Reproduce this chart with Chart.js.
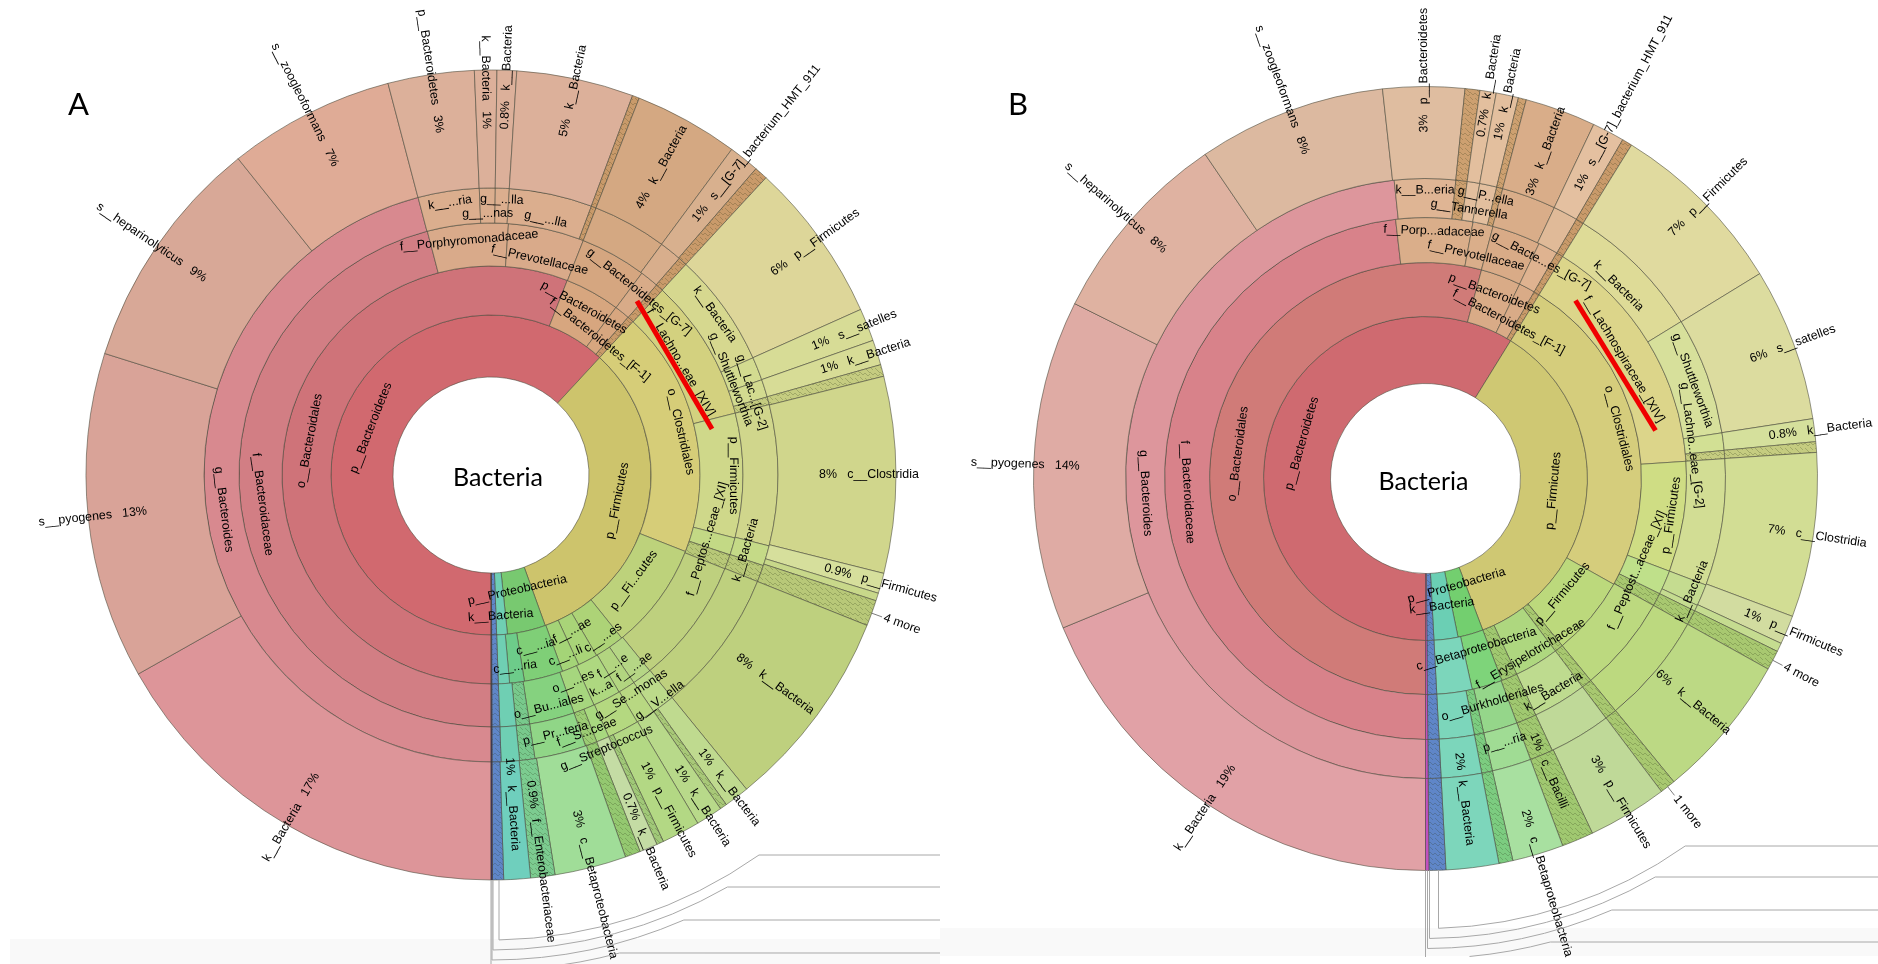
<!DOCTYPE html>
<html>
<head>
<meta charset="utf-8">
<title>Krona A / B</title>
<script src="https://cdn.jsdelivr.net/npm/chart.js@4"></script>
<style>
  html, body { margin: 0; padding: 0; background: #fff; width: 1878px; height: 964px; overflow: hidden; }
  canvas { position: absolute; top: 0; }
  .band { position: absolute; background: #f9f9f9; }
</style>
</head>
<body>
<div class="band" style="left:10px;top:939px;width:930px;height:25px"></div>
<div class="band" style="left:940px;top:928px;width:938px;height:28px"></div>
<canvas id="chartA" width="940" height="964" style="left:0"></canvas>
<canvas id="chartB" width="938" height="964" style="left:940px"></canvas>
<script>
// share of the circle (%) per slice, clockwise from 6 o'clock. 'H' in a colour = hatched node
const ring1A = [61.89, 32.61, 3.86, 1.08, 0.50, 0.06];
const ring1ALabels = ['p__Bacteroidetes', 'p__Firmicutes', 'p__Proteobacteria', 'k__Bacteria', '', ''];
const ring1ANudge = [0, 0, -11, 12];
const ring1AColors = ['#d1696f', '#cdc46c', '#78c970', '#6fcfb3', 'H#5f86c8', '#3a2f6a'];

const ring2A = [55.94, 4.25, 1.19, 0.50, 19.08, 8.28, 2.33, 1.53, 1.33, 3.00, 1.14, 0.86, 0.50, 0.06];
const ring2ALabels = ['o__Bacteroidales', 'p__Bacteroidetes', 'f__Bacteroidetes_[F-1]', '', 'o__Clostridiales', 'p__Fi...cutes', 'c__...es', 'f__...ae', 'c__...li', 'c__...ia', 'c__...ria', '', '', ''];
const ring2ANudge = [0, 7, -11, 0, 10, -7, 13, -9, 11, -7, 9];
const ring2AColors = ['#cf7379', '#d7a67f', '#d7a67f', 'H#c99a6a', '#d6cd78', '#bdd27b', '#add377', '#a9d478', '#a4d477', '#7fcf77', '#6dcc8a', '#6fcfb3', 'H#5f86c8', '#3a2f6a'];

const ring3A = [45.92, 5.17, 4.86, 4.25, 1.19, 0.50, 9.14, 7.97, 1.11, 0.94, 8.08, 1.25, 1.11, 1.78, 1.36, 2.89, 0.86, 1.03, 0.50, 0.06];
const ring3ALabels = ['f__Bacteroidaceae', 'f__Porphyromonadaceae', 'f__Prevotellaceae', '', 'g__Bacteroidetes_[G-7]', '', 'f__Lachno...eae_[XIV]', 'p__Firmicutes', 'f__Peptos...ceae_[XI]', '', '', 'f__...ae', 'f__...e', 'k...a', 'o__...es', 'o__Bu...iales', '', '', '', ''];
const ring3ANudge = [0, 5, -10, 0, 5, 0, -10, 12, -5, 0, 0, 9, -4, 10, -8, 8];
const ring3AColors = ['#d27e84', '#d9aa8a', '#d9aa8a', '#d5a680', '#d8ab88', 'H#c99a6a', '#d3d17f', '#cfd88a', '#c3d985', 'H#b8c878', '#bed07e', '#b5d685', '#b2d580', '#aed880', '#a6d67e', '#85d27f', 'H#78c98c', '#6fcfb3', 'H#5f86c8', '#3a2f6a'];

const ring4A = [45.92, 3.44, 0.89, 0.78, 4.67, 0.28, 4.17, 1.25, 0.50, 6.42, 1.31, 1.00, 0.44, 7.92, 1.14, 0.94, 8.08, 1.28, 1.08, 1.78, 0.72, 0.67, 2.89, 0.86, 1.03, 0.50, 0.06];
const ring4ALabels = ['g__Bacteroides', 'k__...ria', 'g__...nas', 'g__...lla', 'g__...lla', '', '', '', '', 'k__Bacteria', 'g__Shuttleworthia', 'g__Lac...[G-2]', '', '', 'k__Bacteria', '', '', 'g__V...ella', 'g__Se...monas', '', 'g__Streptococcus', 'f__S...ceae', 'p__Pr...teria', '', '', '', ''];
const ring4ANudge = [0, 6, -8, 6, -8, 0, 0, 0, 0, 6, -11, 4, 0, 0, -4, 0, 0, 12, -9, 0, 27, 5, -3];
const ring4AColors = ['#d8898f', '#dbae8e', '#dbae8e', '#dbae8e', '#dbae8e', 'H#c99a6a', '#d4a882', '#d8ae8c', 'H#c99a6a', '#d6d88f', '#d3db90', '#d3db90', 'H#c5cc80', '#d0d68c', '#c5da87', 'H#b8c878', '#bed07e', '#bcda8a', '#b8d882', '#b4d880', '#a8d87f', 'H#9ccc74', '#90d687', 'H#78c98c', '#6fcfb3', 'H#5f86c8', '#3a2f6a'];

const ring5A = [16.83, 13.03, 9.42, 6.64, 3.44, 0.89, 0.78, 4.67, 0.28, 4.17, 1.22, 0.53, 6.42, 1.31, 1.00, 0.47, 7.83, 0.81, 0.31, 1.03, 8.08, 1.00, 0.28, 1.06, 1.53, 0.28, 0.72, 0.61, 2.86, 0.97, 1.06, 0.44, 0.06];
const ring5ALabels = ['k__Bacteria', 's__pyogenes', 's__heparinolyticus', 's__zoogleoformans', 'p__Bacteroidetes', 'k__Bacteria', 'k__Bacteria', 'k__Bacteria', '', 'k__Bacteria', 's__[G-7]_bacterium_HMT_911', '', 'p__Firmicutes', 's__satelles', 'k__Bacteria', '', 'c__Clostridia', 'p__Firmicutes', '', '4 more', 'k__Bacteria', 'k__Bacteria', '', 'k__Bacteria', 'p__Firmicutes', '', 'k__Bacteria', '', 'c__Betaproteobacteria', 'f__Enterobacteriaceae', 'k__Bacteria', '', ''];
const ring5APct = ['17%', '13%', '9%', '7%', '3%', '1%', '0.8%', '5%', '', '4%', '1%', '', '6%', '1%', '1%', '', '8%', '0.9%', '', '', '8%', '1%', '', '1%', '1%', '', '0.7%', '', '3%', '0.9%', '1%', '', ''];
const ring5ANudge = [0, 0, 0, 0, 0, 0, 0, 0, 0, -41, -20, 0, 0, 0, 0, 0, -18, 0, 0, 0, -40, 0, 0, 0, -20, 0, 0, 0, 0, -38, -63];
const ring5AColors = ['#dd9599', '#d9a398', '#d8a897', '#dfab96', '#dcb09a', '#dcb09a', '#dcb09a', '#dcb09a', 'H#c99a6a', '#d4a882', '#d8b08e', 'H#c99a6a', '#ddd699', '#d7dc96', '#d7dc96', 'H#c5cc80', '#d0d68c', '#d6df9c', '#c8d88a', 'H#b8c878', '#bed07e', '#bfda8f', 'H#a8c878', '#b8d98a', '#b3d884', 'H#a0c878', '#c4dca4', 'H#94c870', '#a0dd98', 'H#7ccc90', '#6fcfbd', 'H#5f86c8', '#3a2f6a'];

const ring1B = [58.81, 35.44, 2.53, 2.39, 0.69, 0.14];
const ring1BLabels = ['p__Bacteroidetes', 'p__Firmicutes', 'p__Proteobacteria', 'k__Bacteria', '', ''];
const ring1BNudge = [0, 0, -17, 0];
const ring1BColors = ['#cf6a70', '#cfc873', '#73cf6f', '#6bcfb4', 'H#5f86c8', '#c050c0'];

const ring2B = [54.17, 3.00, 1.22, 0.42, 24.33, 5.94, 0.64, 3.33, 1.19, 2.28, 2.64, 0.69, 0.14];
const ring2BLabels = ['o__Bacteroidales', 'p__Bacteroidetes', 'f__Bacteroidetes_[F-1]', '', 'o__Clostridiales', 'p__Firmicutes', '', '', '', 'c__Betaproteobacteria', '', '', ''];
const ring2BNudge = [0, 8, -12, 0, 11, -10, 0, 0, 0, -11];
const ring2BColors = ['#d07b78', '#d9ab87', '#d9ab87', 'H#c99a6a', '#d5cd7c', '#bcd97c', 'H#a8c870', '#aed77f', 'H#a0c870', '#7ed47a', '#7cd6bb', 'H#5f86c8', '#c050c0'];

const ring3B = [48.17, 4.75, 1.25, 3.00, 1.22, 0.42, 15.14, 6.83, 1.50, 0.81, 6.00, 0.64, 3.33, 1.25, 2.11, 0.58, 2.17, 0.69, 0.14];
const ring3BLabels = ['f__Bacteroidaceae', 'f__Porp...adaceae', 'f__Prevotellaceae', '', 'g__Bacte...es_[G-7]', '', 'f__Lachnospiraceae_[XIV]', 'p__Firmicutes', 'f__Peptost...aceae_[XI]', '', '', '', 'f__Erysipelotrichaceae', '', 'o__Burkholderiales', '', '', '', ''];
const ring3BNudge = [0, 9, -10, 0, 8, 0, -7, 10, -8, 0, 0, 0, -34, 0, -5];
const ring3BColors = ['#d8828a', '#daae8a', '#daae8a', '#d9ab87', '#dfb390', 'H#c99a6a', '#dcd58a', '#cfdd84', '#bfe08a', 'H#a8c870', '#bcd97f', 'H#a8c870', '#bedb8f', 'H#a0c870', '#95d68a', 'H#7ccc80', '#7cd6bb', 'H#5f86c8', '#c050c0'];

const ring4B = [48.33, 3.28, 0.61, 0.67, 0.92, 0.33, 2.92, 1.33, 0.42, 7.42, 6.33, 0.94, 0.44, 6.83, 1.17, 0.33, 0.81, 6.00, 0.64, 3.33, 1.25, 2.11, 0.58, 2.17, 0.69, 0.14];
const ring4BLabels = ['g__Bacteroides', 'k__B...eria', '', 'g__Tannerella', 'g__P...ella', '', '', '', '', 'k__Bacteria', 'g__Shuttleworthia', 'g__Lachno...eae_[G-2]', '', '', 'k__Bacteria', '', '', '', '', 'k__Bacteria', '', 'p__...ria', '', '', '', ''];
const ring4BNudge = [0, 8, 0, -8, 8, 0, 0, 0, 0, -8, 4, -12, 0, 0, 9, 0, 0, 0, 0, -32, 0, -5];
const ring4BColors = ['#dd969c', '#dfb594', 'H#cda070', '#e3bf9e', '#e3bf9e', 'H#cda070', '#d9ad89', '#e0ba98', 'H#c99a6a', '#dedb97', '#d7e09b', '#d2e094', 'H#c5cc80', '#d2dd94', '#c5dc90', '#c5dc90', 'H#a8c870', '#bcd97f', 'H#a8c870', '#bfd998', 'H#a0c870', '#a0dc94', 'H#7ccc80', '#7cd6bb', 'H#5f86c8', '#c050c0'];

const ring5B = [18.78, 13.58, 8.14, 7.75, 3.36, 0.61, 0.67, 0.92, 0.33, 2.92, 1.33, 0.42, 7.44, 6.31, 0.94, 0.44, 6.78, 1.19, 0.36, 0.81, 6.00, 0.64, 3.28, 1.31, 2.11, 0.58, 2.17, 0.69, 0.14];
const ring5BLabels = ['k__Bacteria', 's__pyogenes', 's__heparinolyticus', 's__zoogleoformans', 'p__Bacteroidetes', '', 'k__Bacteria', 'k__Bacteria', '', 'k__Bacteria', 's__[G-7]_bacterium_HMT_911', '', 'p__Firmicutes', 's__satelles', 'k__Bacteria', '', 'c__Clostridia', 'p__Firmicutes', '', '4 more', 'k__Bacteria', '1 more', 'p__Firmicutes', 'c__Bacilli', 'c__Betaproteobacteria', '', 'k__Bacteria', '', ''];
const ring5BPct = ['19%', '14%', '8%', '8%', '3%', '', '0.7%', '1%', '', '3%', '1%', '', '7%', '6%', '0.8%', '', '7%', '1%', '', '', '6%', '', '3%', '1%', '2%', '', '2%', '', ''];
const ring5BNudge = [0, 0, 0, 0, 0, 0, 0, 0, 0, -44, -20, 0, 0, 0, 0, 0, 0, 0, 0, 0, -44, 0, -21, -69, 0, 0, -70];
const ring5BColors = ['#e1a1a6', '#dfaba4', '#dfb2a1', '#dcb9a0', '#dfbda0', 'H#cda070', '#e3bf9e', '#e3bf9e', 'H#cda070', '#d9ad89', '#e4c0a0', 'H#c99a6a', '#e0da9f', '#dcdc9f', '#d5e09c', 'H#c5cc80', '#d2dd94', '#d2dca0', '#c5dc90', 'H#a8c870', '#bcd984', 'H#a8c870', '#bfd998', 'H#a0c870', '#a8e0a0', 'H#7ccc80', '#7dd6bb', 'H#5f86c8', '#c050c0'];

const ringWeightsA = [118, 35, 43, 49, 62];
const ringWeightsB = [92, 39, 45, 54, 67];

function hatch(base) {
  const c = document.createElement('canvas');
  c.width = 10; c.height = 10;
  const g = c.getContext('2d');
  g.fillStyle = base;
  g.fillRect(0, 0, 10, 10);
  g.strokeStyle = 'rgba(40,50,20,0.28)';
  g.lineWidth = 0.8;
  g.beginPath();
  g.moveTo(0, 2); g.lineTo(3, 5); g.moveTo(3, 5); g.lineTo(5, 3); g.lineTo(8, 6); g.lineTo(10, 4);
  g.moveTo(0, 7); g.lineTo(3, 10); g.moveTo(5, 8); g.lineTo(7, 10); g.moveTo(7, 0); g.lineTo(10, 3);
  g.stroke();
  return g.createPattern(c, 'repeat');
}

function fills(colors) {
  return colors.map(function (c) { return c[0] === 'H' ? hatch(c.slice(1)) : c; });
}

const kronaLabels = {
  id: 'kronaLabels',
  afterDatasetsDraw(chart, args, opts) {
    const ctx = chart.ctx;
    const R = chart.getDatasetMeta(0).data[0].outerRadius;
    const cx = chart.getDatasetMeta(0).data[0].x;
    const cy = chart.getDatasetMeta(0).data[0].y;
    ctx.save();
    ctx.fillStyle = '#000';
    ctx.font = '12.4px "Liberation Sans"';
    ctx.textBaseline = 'middle';

    chart.data.datasets.forEach(function (ds, i) {
      chart.getDatasetMeta(i).data.forEach(function (arc, j) {
        const name = ds.names[j];
        if (!name) return;
        const a = (arc.startAngle + arc.endAngle) / 2;
        const phi = ((a - Math.PI / 2) * 180 / Math.PI + 720) % 360;
        const mid = (arc.innerRadius + arc.outerRadius) / 2;
        ctx.save();
        if (i === 0) {
          // outer ring, radial text
          const more = !ds.pct[j];
          const right = phi >= 179.5;
          const r = more ? R + 13 : mid + (ds.nudge[j] || 0);
          ctx.translate(cx + r * Math.cos(a), cy + r * Math.sin(a));
          ctx.rotate(right ? a : a + Math.PI);
          ctx.textAlign = right ? 'left' : 'right';
          const text = more ? name : (right ? ds.pct[j] + '   ' + name : name + '   ' + ds.pct[j]);
          ctx.fillText(text, 0, 0);
          if (more) {
            ctx.strokeStyle = '#555';
            ctx.lineWidth = 0.7;
            ctx.beginPath();
            ctx.moveTo(-13, 0);
            ctx.lineTo(-2, 0);
            ctx.stroke();
          }
        } else {
          // inner rings, tangential text
          let rot = phi + 180;
          if (rot > 180) rot -= 360;
          if (rot > 92) rot -= 180;
          if (rot < -88) rot += 180;
          const r = mid + (ds.nudge[j] || 0);
          ctx.translate(cx + r * Math.cos(a), cy + r * Math.sin(a));
          ctx.rotate(rot * Math.PI / 180);
          ctx.textAlign = 'center';
          ctx.fillText(name, 0, 0);
        }
        ctx.restore();
      });
    });

    // root label and panel letter
    ctx.font = '25px Lato';
    ctx.textAlign = 'center';
    ctx.fillText('Bacteria', cx + opts.rootDx, cy + 3);
    ctx.font = '31px Lato';
    ctx.textAlign = 'left';
    ctx.fillText(opts.letter, opts.letterX, 105);

    // red marker over the Lachnospiraceae slice
    ctx.strokeStyle = '#f00000';
    ctx.lineWidth = 5;
    ctx.beginPath();
    ctx.moveTo(cx + opts.mark[0], cy + opts.mark[1]);
    ctx.lineTo(cx + opts.mark[2], cy + opts.mark[3]);
    ctx.stroke();

    // key connector lines under the plot
    ctx.strokeStyle = '#a8a8a8';
    ctx.lineWidth = 1;
    ctx.beginPath();
    ctx.moveTo(cx, cy + R);
    ctx.lineTo(cx, opts.stemEnd);
    opts.keys.forEach(function (k) {
      const r = R + k.gap;
      const a1 = Math.acos(k.dx / r);
      const a2 = Math.asin((k.y - cy) / r);
      if (k.stem) {
        ctx.moveTo(cx + k.dx, cy + Math.sqrt(R * R - k.dx * k.dx));
        ctx.lineTo(cx + k.dx, cy + r * Math.sin(a1));
      } else {
        ctx.moveTo(cx + r * Math.cos(a1), cy + r * Math.sin(a1));
      }
      ctx.arc(cx, cy, r, a1, a2, true);
      ctx.lineTo(chart.width, k.y);
    });
    ctx.stroke();
    ctx.restore();
  }
};

function buildChart(id, radius, hole, padding, rings, weights, extras) {
  new Chart(document.getElementById(id), {
    type: 'doughnut',
    data: {
      datasets: rings.map(function (ring, i) {
        return {
          data: ring.values,
          names: ring.labels,
          pct: ring.pct || [],
          nudge: ring.nudge || [],
          weight: weights[i],
          backgroundColor: fills(ring.colors),
          borderColor: 'rgba(70,70,55,0.8)',
          borderWidth: 0.7,
          clip: false
        };
      })
    },
    options: {
      responsive: false,
      animation: false,
      events: [],
      rotation: 180,
      radius: radius,
      cutout: (hole / radius * 100) + '%',
      layout: { padding: padding },
      plugins: {
        legend: { display: false },
        tooltip: { enabled: false },
        kronaLabels: extras
      }
    },
    plugins: [kronaLabels]
  });
}

buildChart('chartA', 405, 98, { left: 42, bottom: 14 }, [
  { values: ring5A, labels: ring5ALabels, pct: ring5APct, nudge: ring5ANudge, colors: ring5AColors },
  { values: ring4A, labels: ring4ALabels, nudge: ring4ANudge, colors: ring4AColors },
  { values: ring3A, labels: ring3ALabels, nudge: ring3ANudge, colors: ring3AColors },
  { values: ring2A, labels: ring2ALabels, nudge: ring2ANudge, colors: ring2AColors },
  { values: ring1A, labels: ring1ALabels, nudge: ring1ANudge, colors: ring1AColors }
], ringWeightsA, {
  letter: 'A', letterX: 68, rootDx: 7, stemEnd: 964,
  mark: [146, -174, 221, -46],
  keys: [
    { gap: 60, dx: 8, y: 855, stem: true },
    { gap: 70, dx: 2, y: 887, stem: true },
    { gap: 80, dx: 1, y: 920, stem: true },
    { gap: 90, dx: 49, y: 953, stem: false }
  ]
});

buildChart('chartB', 392, 95, { left: 33, bottom: 7 }, [
  { values: ring5B, labels: ring5BLabels, pct: ring5BPct, nudge: ring5BNudge, colors: ring5BColors },
  { values: ring4B, labels: ring4BLabels, nudge: ring4BNudge, colors: ring4BColors },
  { values: ring3B, labels: ring3BLabels, nudge: ring3BNudge, colors: ring3BColors },
  { values: ring2B, labels: ring2BLabels, nudge: ring2BNudge, colors: ring2BColors },
  { values: ring1B, labels: ring1BLabels, nudge: ring1BNudge, colors: ring1BColors }
], ringWeightsB, {
  letter: 'B', letterX: 68, rootDx: -2, stemEnd: 957,
  mark: [150, -178, 230, -48],
  keys: [
    { gap: 58, dx: 13, y: 846, stem: true },
    { gap: 68, dx: 4, y: 877, stem: true },
    { gap: 78, dx: 2, y: 910, stem: true },
    { gap: 88, dx: 44, y: 942, stem: false }
  ]
});
</script>
</body>
</html>
